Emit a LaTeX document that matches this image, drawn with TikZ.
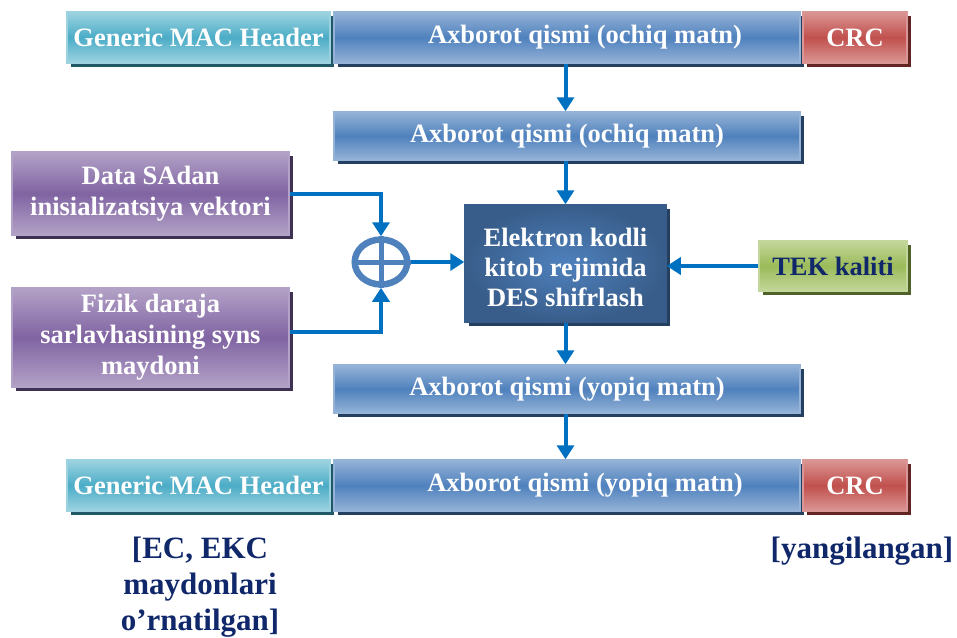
\documentclass[tikz,border=0pt]{standalone}
\usepackage{fontspec}
\setmainfont{Liberation Serif}
\usetikzlibrary{arrows.meta,shadows,shapes.geometric}
\definecolor{cyD}{HTML}{4BACC6}
\definecolor{cyL}{HTML}{9DD3E0}
\definecolor{cyS}{HTML}{215868}
\definecolor{blD}{HTML}{4F81BD}
\definecolor{blL}{HTML}{95B3D7}
\definecolor{blS}{HTML}{243F60}
\definecolor{rdD}{HTML}{C0504D}
\definecolor{rdL}{HTML}{DA9694}
\definecolor{rdS}{HTML}{632523}
\definecolor{puD}{HTML}{8064A2}
\definecolor{puL}{HTML}{B3A2C7}
\definecolor{puS}{HTML}{3F3151}
\definecolor{grD}{HTML}{9BBB59}
\definecolor{grL}{HTML}{C3D69B}
\definecolor{grS}{HTML}{4F6228}
\definecolor{desIn}{HTML}{4F81BD}
\definecolor{desOut}{HTML}{385D8A}
\definecolor{arrC}{HTML}{0070C0}
\definecolor{navy}{HTML}{10286A}
\tikzset{
  base/.style={rectangle, inner sep=0pt, text=white, align=center, line width=1.5pt,
    font=\fontsize{26.5}{31}\selectfont\bfseries},
  shbox/.style={drop shadow={shadow xshift=4pt, shadow yshift=-4pt, opacity=1, fill=#1}},
  cyanbox/.style={base, draw=cyL, top color=cyL, bottom color=cyL, middle color=cyD, shbox=cyS},
  bluebox/.style={base, draw=blL, top color=blL, bottom color=blL, middle color=blD, shbox=blS},
  redbox/.style={base, draw=rdL, top color=rdL, bottom color=rdL, middle color=rdD, shbox=rdS},
  purplebox/.style={base, draw=puL, top color=puL, bottom color=puL, middle color=puD, shbox=puS},
  greenbox/.style={base, draw=grL, top color=grL, bottom color=grL, middle color=grD, shbox=grS, text=navy},
  desbox/.style={base, draw=desOut, inner color=desIn, outer color=desOut, shbox=blS,
    font=\fontsize{26.5}{30}\selectfont\bfseries},
  xorc/.style={ellipse, draw=blD, line width=6.5pt, minimum width=52.5pt, minimum height=45pt, inner sep=0pt},
  xorline/.style={draw=blD, line width=5pt},
  arr/.style={draw=arrC, line width=4pt, -{Triangle[width=17pt,length=14pt]}},
  lbl/.style={text=navy, align=center, font=\fontsize{31}{36}\selectfont\bfseries},
}
\begin{document}
\begin{tikzpicture}[x=1pt,y=-1pt]
\useasboundingbox (0,0) rectangle (957,637);
% top row
\node[cyanbox, minimum width=263pt, minimum height=51pt] (g1) at (198.5,37.5) {Generic MAC Header};
\node[bluebox, minimum width=466pt, minimum height=51pt] (a1) at (567,37.5) {\hspace*{36pt}Axborot qismi (ochiq matn)};
\node[redbox, minimum width=104pt, minimum height=51pt] (c1) at (855,37.5) {CRC};
% second row
\node[bluebox, minimum width=466pt, minimum height=48pt] (a2) at (567,136) {Axborot qismi (ochiq matn)};
% inputs
\node[purplebox, minimum width=277pt, minimum height=83pt] (p1) at (150.5,193.5) {Data SAdan\\inisializatsiya vektori};
\node[purplebox, minimum width=277pt, minimum height=99pt] (p2) at (150.5,337.5) {Fizik daraja\\sarlavhasining syns\\maydoni};
\node[xorc] (x) at (381,262) {};
\draw[xorline] (x.north) -- (x.south);
\draw[xorline] (x.west) -- (x.east);
\node[desbox, minimum width=201pt, minimum height=117pt] (d) at (565.5,263.5)
  {\raisebox{-7pt}[\height][\depth]{\begin{tabular}{@{}c@{}}Elektron kodli\\kitob rejimida\\DES shifrlash\end{tabular}}};
\node[greenbox, minimum width=148pt, minimum height=50pt] (t) at (833,266) {TEK kaliti};
% yopiq row
\node[bluebox, minimum width=466pt, minimum height=48pt] (a3) at (567,389) {Axborot qismi (yopiq matn)};
% bottom row
\node[cyanbox, minimum width=263pt, minimum height=51pt] (g2) at (198.5,485.5) {Generic MAC Header};
\node[bluebox, minimum width=466pt, minimum height=51pt] (a4) at (567,485.5) {\hspace*{36pt}Axborot qismi (yopiq matn)};
\node[redbox, minimum width=104pt, minimum height=51pt] (c2) at (855,485.5) {CRC};
% labels
\node[lbl] (l1) at (200,587) {[EC, EKC\\maydonlari\\o’rnatilgan]};
\node[lbl] (l2) at (862,551) {[yangilangan]};
% arrows
\draw[arr] (a1.south -| d) -- (a2.north -| d);
\draw[arr] (a2.south -| d) -- (d.north);
\draw[arr] (p1.east) -| (x.north);
\draw[arr] ([yshift=6pt]p2.east) -| (x.south);
\draw[arr] (x.east) -- (x.east -| d.west);
\draw[arr] (t.west) -- (t.west -| d.east);
\draw[arr] (d.south) -- (a3.north -| d);
\draw[arr] (a3.south -| d) -- (a4.north -| d);
\end{tikzpicture}
\end{document}
